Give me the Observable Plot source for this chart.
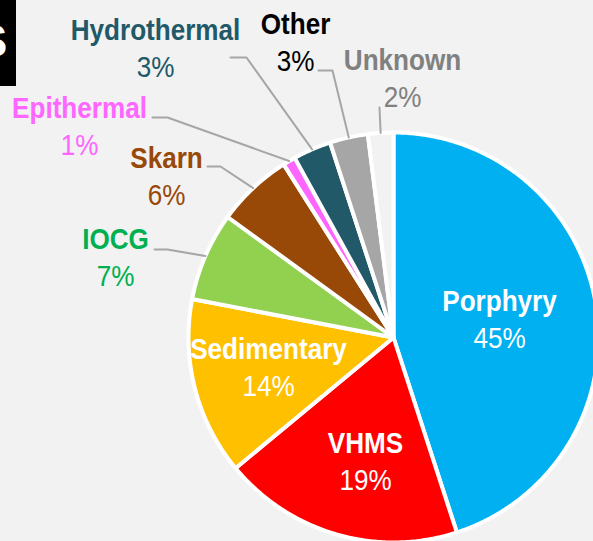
<!DOCTYPE html>
<html><head><meta charset="utf-8">
<script src="https://cdn.jsdelivr.net/npm/d3@7"></script>
<script src="https://cdn.jsdelivr.net/npm/@observablehq/plot@0.6"></script>
<style>
html,body{margin:0;padding:0;background:#f2f2f2;overflow:hidden;}
#wrap{position:relative;width:593px;height:541px;overflow:hidden;background:#f2f2f2;}
#tag{position:absolute;left:0;top:0;width:16px;height:86px;background:#000;overflow:hidden;z-index:2;}
#tag span{position:absolute;left:-24px;top:17px;font:bold 47px/47px "Liberation Sans",Arial,sans-serif;color:#fff;}
</style></head>
<body><div id="wrap"><div id="tag"><span>S</span></div></div>
<script>
// ---- data ----
const categories = ["Porphyry","VHMS","Sedimentary","IOCG","Skarn","Epithermal","Hydrothermal","Other","Unknown"];
const shares = [45,19,14,7,6,1,3,3,2];
const pctLabels = ["45%","19%","14%","7%","6%","1%","3%","3%","2%"];
const sliceColors = ["#00b0f0","#ff0000","#ffc000","#92d050","#984807","#ff66ff","#215968","#a6a6a6","#f2f2f2"];
const labelColors = ["#ffffff","#ffffff","#ffffff","#00b050","#984807","#ff66ff","#215968","#000000","#808080"];

// ---- layout (pixels) ----
const W = 593, H = 541, CX = 393, CY = 337, R = 205, LINE = 37, FS = 30, SX = 0.87;
const LAYOUT = {
  Porphyry:     {x: 499, y: 310},
  VHMS:         {x: 365, y: 452},
  Sedimentary:  {x: 268, y: 358},
  IOCG:         {x: 115, y: 248, leader: [[154,249],[167,249]]},
  Skarn:        {x: 166, y: 167, leader: [[207,166],[220,166]]},
  Epithermal:   {x: 79,  y: 117, leader: [[152,117],[167,117]]},
  Hydrothermal: {x: 155, y: 39,  leader: [[230,57],[246,57]]},
  Other:        {x: 295, y: 33,  leader: [[318,70],[332,70]]},
  Unknown:      {x: 402, y: 69,  leader: [[379,107]]}
};
const px2x = p => (p - CX) / R, px2y = p => (CY - p) / R;

const rows = categories.map((c, i) => ({name: c, share: shares[i], pct: pctLabels[i], color: sliceColors[i], labelColor: labelColors[i]}));
const arcs = d3.pie().sort(null).value(d => d.share)(rows);

// slice polygons
const poly = [];
arcs.forEach(a => {
  const n = Math.max(3, Math.ceil((a.endAngle - a.startAngle) / 0.01));
  poly.push({name: a.data.name, color: a.data.color, x: 0, y: 0});
  for (let k = 0; k <= n; k++) {
    const t = a.startAngle + (a.endAngle - a.startAngle) * k / n;
    poly.push({name: a.data.name, color: a.data.color, x: Math.sin(t), y: Math.cos(t)});
  }
  poly.push({name: a.data.name, color: a.data.color, x: 0, y: 0});
});

// leader lines
const leaders = [];
arcs.forEach(a => {
  const L = LAYOUT[a.data.name];
  if (!L.leader) return;
  L.leader.forEach(p => leaders.push({name: a.data.name, x: px2x(p[0]), y: px2y(p[1])}));
  const m = (a.startAngle + a.endAngle) / 2;
  leaders.push({name: a.data.name, x: Math.sin(m), y: Math.cos(m)});
});

const labels = rows.map(d => ({...d, x: px2x(LAYOUT[d.name].x), y: px2y(LAYOUT[d.name].y), y2: px2y(LAYOUT[d.name].y + LINE)}));

const font = "Liberation Sans, Arial, sans-serif";
const chart = Plot.plot({
  width: W, height: H,
  marginTop: 0, marginRight: 0, marginBottom: 0, marginLeft: 0,
  x: {domain: [px2x(0), px2x(W)], range: [0, W], axis: null},
  y: {domain: [px2y(H), px2y(0)], range: [H, 0], axis: null},
  color: {type: "identity"},
  style: {background: "#f2f2f2", fontFamily: font, overflow: "hidden"},
  marks: [
    Plot.line(poly, {x: "x", y: "y", z: "name", fill: "color", stroke: "#ffffff", strokeWidth: 4, strokeLinejoin: "round", curve: "linear"}),
    Plot.line(leaders, {x: "x", y: "y", z: "name", stroke: "#a6a6a6", strokeWidth: 2, curve: "linear"}),
    Plot.text(labels, {x: "x", y: "y", text: "name", fill: "labelColor", fontSize: FS, fontWeight: "bold", lineAnchor: "bottom", textAnchor: "middle", fontFamily: font}),
    Plot.text(labels, {x: "x", y: "y2", text: "pct", fill: "labelColor", fontSize: FS, lineAnchor: "bottom", textAnchor: "middle", fontFamily: font})
  ]
});
chart.style.display = "block";
chart.style.overflow = "hidden";
// condensed lettering
chart.querySelectorAll("text").forEach(t => {
  const tr = t.getAttribute("transform");
  if (tr) t.setAttribute("transform", tr + ` scale(${SX},1)`);
  else {
    const x = +(t.getAttribute("x") || 0), y = +(t.getAttribute("y") || 0);
    t.removeAttribute("x"); t.removeAttribute("y");
    t.setAttribute("transform", `translate(${x},${y}) scale(${SX},1)`);
  }
});
document.getElementById("wrap").appendChild(chart);
</script>
</body></html>
